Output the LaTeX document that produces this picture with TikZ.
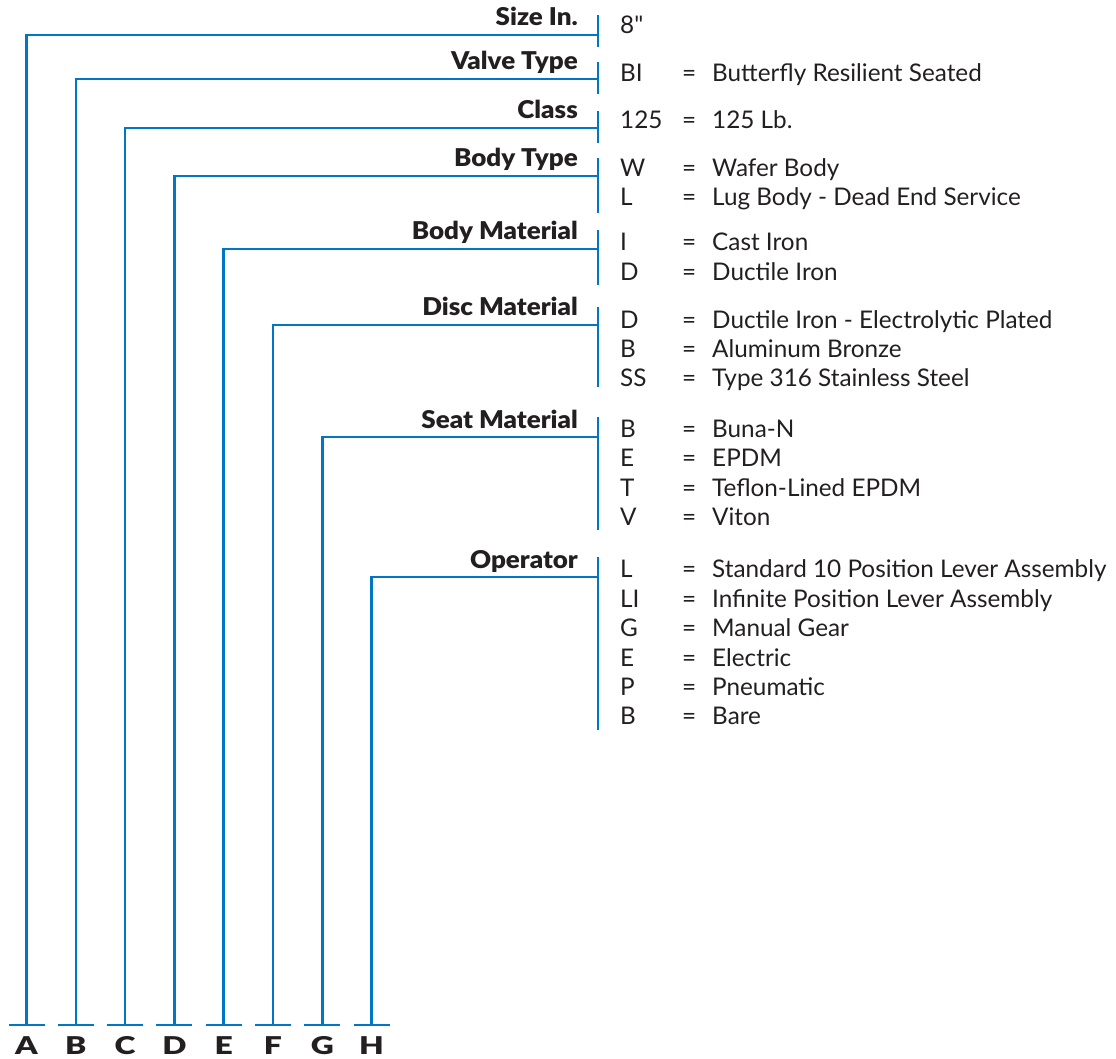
\documentclass[tikz,border=0pt]{standalone}
\usepackage{fontspec}
\setmainfont{Lato}
\newfontfamily\rawlato{Lato}
\newfontfamily\heavy{Lato Black}
\definecolor{lineblue}{RGB}{0,118,196}
\definecolor{ink}{RGB}{35,31,32}
\begin{document}
\begin{tikzpicture}[x=1pt,y=-1pt,
  conn/.style={draw=lineblue,line width=2.6pt},
  bar/.style={draw=lineblue,line width=2.6pt},
  lbl/.style={anchor=base east,inner sep=0pt,text=ink,font=\fontsize{24.5}{28}\heavy,xscale=1.06,transform shape},
  code/.style={anchor=base west,inner sep=0pt,text=ink,font=\fontsize{24.3}{28}\selectfont},
  letter/.style={anchor=base,inner sep=0pt,text=ink,font=\fontsize{24.5}{28}\heavy,xscale=1.3,transform shape}]
\useasboundingbox (0,0) rectangle (1116,1059);
% columns
\def\xbar{598}\def\xc{620}\def\xe{682}\def\xd{712}\def\xl{578}\def\ybot{1025}
% group: #1 name, #2 x, #3 line y, #4 label, #5 bar top, #6 bar bottom
\newcommand\grp[6]{%
  \node[lbl] (lab#1) at (\xl,#3-9) {#4};
  \coordinate (top#1) at (\xbar,#5);
  \coordinate (bot#1) at (\xbar,#6);
  \coordinate (join#1) at (\xbar,#3);
  \coordinate (tick#1) at (#2,\ybot);
  \coordinate (tl#1) at (#2-18,\ybot);
  \coordinate (tr#1) at (#2+18,\ybot);
  \node[letter] (let#1) at (#2,1054) {#1};
  \draw[bar] (top#1) -- (bot#1);
  \draw[conn] (join#1) -| (tick#1);
  \draw[conn] (tl#1) -- (tr#1);
}
\newcommand\row[4]{%
  \node[code] (c#1) at (\xc,#2) {#3};
  \node[code] (e#1) at (\xe,#2) {=};
  \node[code] (d#1) at (\xd,#2) {#4};
}
\grp{A}{26.5}{35}{Size In.}{15}{47}
\node[code] (cA1) at (\xc,34) {\rawlato 8"};
\grp{B}{75.8}{79}{Valve Type}{62}{94}
\row{B1}{82}{BI}{Butterfly Resilient Seated}
\grp{C}{125.1}{128}{Class}{111}{143}
\row{C1}{129}{125}{125 Lb.}
\grp{D}{174.4}{176}{Body Type}{158}{213}
\row{D1}{177}{W}{Wafer Body}
\row{D2}{206}{L}{Lug Body - Dead End Service}
\grp{E}{223.7}{249}{Body Material}{230}{285}
\row{E1}{251}{I}{Cast Iron}
\row{E2}{280}{D}{Ductile Iron}
\grp{F}{273}{325}{Disc Material}{307}{387}
\row{F1}{328}{D}{Ductile Iron - Electrolytic Plated}
\row{F2}{357}{B}{Aluminum Bronze}
\row{F3}{386}{SS}{Type 316 Stainless Steel}
\grp{G}{322.3}{437}{Seat Material}{417}{530}
\row{G1}{437}{B}{Buna-N}
\row{G2}{466}{E}{EPDM}
\row{G3}{496}{T}{Teflon-Lined EPDM}
\row{G4}{525}{V}{Viton}
\grp{H}{371.6}{577}{Operator}{557}{730}
\row{H1}{577}{L}{Standard 10 Position Lever Assembly}
\row{H2}{607}{LI}{Infinite Position Lever Assembly}
\row{H3}{636}{G}{Manual Gear}
\row{H4}{666}{E}{Electric}
\row{H5}{695}{P}{Pneumatic}
\row{H6}{724}{B}{Bare}
\end{tikzpicture}
\end{document}
